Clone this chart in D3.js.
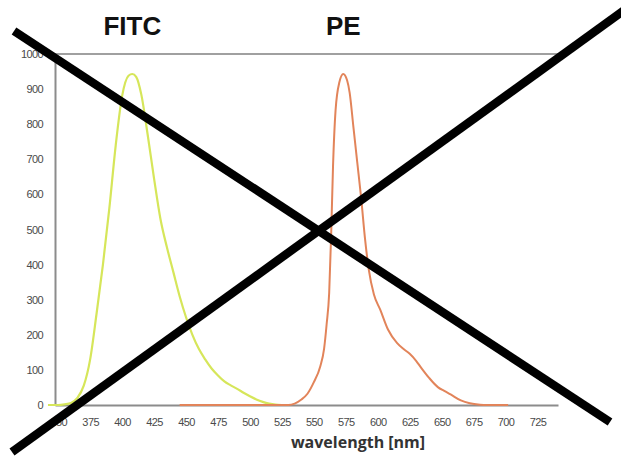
<!DOCTYPE html>
<html>
<head>
<meta charset="utf-8">
<script src="https://cdn.jsdelivr.net/npm/d3@7/dist/d3.min.js"></script>
<style>
  html, body { margin: 0; padding: 0; background: #fff; }
  svg { display: block; }
</style>
</head>
<body>
<script>
// Emission spectra of two fluorochromes (wavelength in nm, intensity 0–1000)
const fitcWavelength = [342, 350, 355, 360, 365, 370, 375, 380, 385, 390, 395, 400, 405, 408, 411, 415, 420, 425, 430, 435, 440, 445, 450, 455, 460, 465, 470, 475, 480, 485, 490, 495, 500, 505, 510, 515, 520, 525];
const fitcIntensity  = [0,   0,   2,   6,   20,  55,  130, 260, 400, 560, 740, 880, 938, 943, 935, 885, 770, 645, 530, 450, 380, 310, 250, 200, 160, 130, 104, 84,  67,  56,  46,  35,  25,  16,  9,   4,   1,   0];

const peWavelength = [445, 530, 535, 540, 545, 550, 555, 558, 560, 562, 563.5, 565, 567, 570, 573, 576, 578, 581, 584, 587, 590, 593, 597, 602, 608, 615, 620, 625, 630, 634, 640, 647, 652, 657, 665, 672, 680, 685, 702];
const peIntensity  = [0,   0,   4,   15,  32,  65,  110, 160, 230, 320, 480,   680, 840, 920, 943, 925, 890, 790, 690, 590, 475, 385, 315, 271, 215, 177, 160, 146, 126, 106, 78,  51,  40,  30,  13,  5,   1,   0,   0];

const xTicks = [350, 375, 400, 425, 450, 475, 500, 525, 550, 575, 600, 625, 650, 675, 700, 725];
const yTicks = [0, 100, 200, 300, 400, 500, 600, 700, 800, 900, 1000];

const seriesNames = ["FITC", "PE"];
const xTitle = "wavelength [nm]";

const W = 621, H = 456;
const svg = d3.select("body").append("svg").attr("width", W).attr("height", H);

const x = d3.scaleLinear().domain([347.5, 741]).range([55, 558]);
const y = d3.scaleLinear().domain([0, 1000]).range([405, 54]);

const axisColor = "#8c8c8c";
const labelColor = "#4a4a4a";

// frame: top rule at 1000
svg.append("line")
  .attr("x1", x(347.5)).attr("x2", x(743)).attr("y1", y(1000)).attr("y2", y(1000))
  .attr("stroke", "#a0a0a0").attr("stroke-width", 2);

// y axis
const yAxis = svg.append("g").attr("transform", `translate(${x(347.5)},0)`)
  .call(d3.axisLeft(y).tickValues(yTicks).tickFormat(d3.format("d"))
    .tickSize(0).tickPadding(12).tickSizeOuter(0));
yAxis.select(".domain").attr("stroke", axisColor).attr("stroke-width", 2);
yAxis.selectAll("text").attr("fill", labelColor)
  .style("font-family", "'Liberation Sans', Arial, sans-serif").style("font-size", "11px")
  .attr("letter-spacing", "-0.6");

// x axis
const xAxis = svg.append("g").attr("transform", `translate(0,${y(0)})`)
  .call(d3.axisBottom(x).tickValues(xTicks).tickFormat(d3.format("d"))
    .tickSize(0).tickPadding(13).tickSizeOuter(0));
xAxis.select(".domain").attr("stroke", axisColor).attr("stroke-width", 2);
xAxis.selectAll("text").attr("fill", labelColor)
  .style("font-family", "'Liberation Sans', Arial, sans-serif").style("font-size", "11px")
  .attr("letter-spacing", "-0.6");

// x axis title
svg.append("text")
  .attr("x", 358).attr("y", 448)
  .attr("text-anchor", "middle")
  .attr("fill", "#333")
  .style("font-family", "'Open Sans', 'Liberation Sans', sans-serif")
  .style("font-weight", "bold").style("font-size", "16px")
  .text(xTitle);

// spectra
const line = d3.line().x(d => x(d[0])).y(d => y(d[1])).curve(d3.curveMonotoneX);
const fitc = fitcWavelength.map((w, i) => [w, fitcIntensity[i]]);
const pe = peWavelength.map((w, i) => [w, peIntensity[i]]);

svg.append("path").datum(fitc).attr("d", line)
  .attr("fill", "none").attr("stroke", "#d6e65a").attr("stroke-width", 2.2);
svg.append("path").datum(pe).attr("d", line)
  .attr("fill", "none").attr("stroke", "#e2845a").attr("stroke-width", 2);

// series names above their peaks
const peakOf = (ws, vs) => ws[vs.indexOf(d3.max(vs))];
const names = [
  { name: seriesNames[0], at: peakOf(fitcWavelength, fitcIntensity) },
  { name: seriesNames[1], at: peakOf(peWavelength, peIntensity) }
];
svg.selectAll("text.series").data(names).enter().append("text")
  .attr("class", "series")
  .attr("x", d => x(d.at)).attr("y", 35)
  .attr("text-anchor", "middle")
  .attr("fill", "#111")
  .style("font-family", "'Liberation Sans', Arial, sans-serif")
  .style("font-weight", "bold").style("font-size", "26px")
  .text(d => d.name);

// crossing strokes over the whole figure
const strokes = [
  [[14, 31], [610, 422]],
  [[12, 452], [626, 9]]
];
svg.selectAll("line.cross").data(strokes).enter().append("line")
  .attr("class", "cross")
  .attr("x1", d => d[0][0]).attr("y1", d => d[0][1])
  .attr("x2", d => d[1][0]).attr("y2", d => d[1][1])
  .attr("stroke", "#000").attr("stroke-width", 8.5);
</script>
</body>
</html>
